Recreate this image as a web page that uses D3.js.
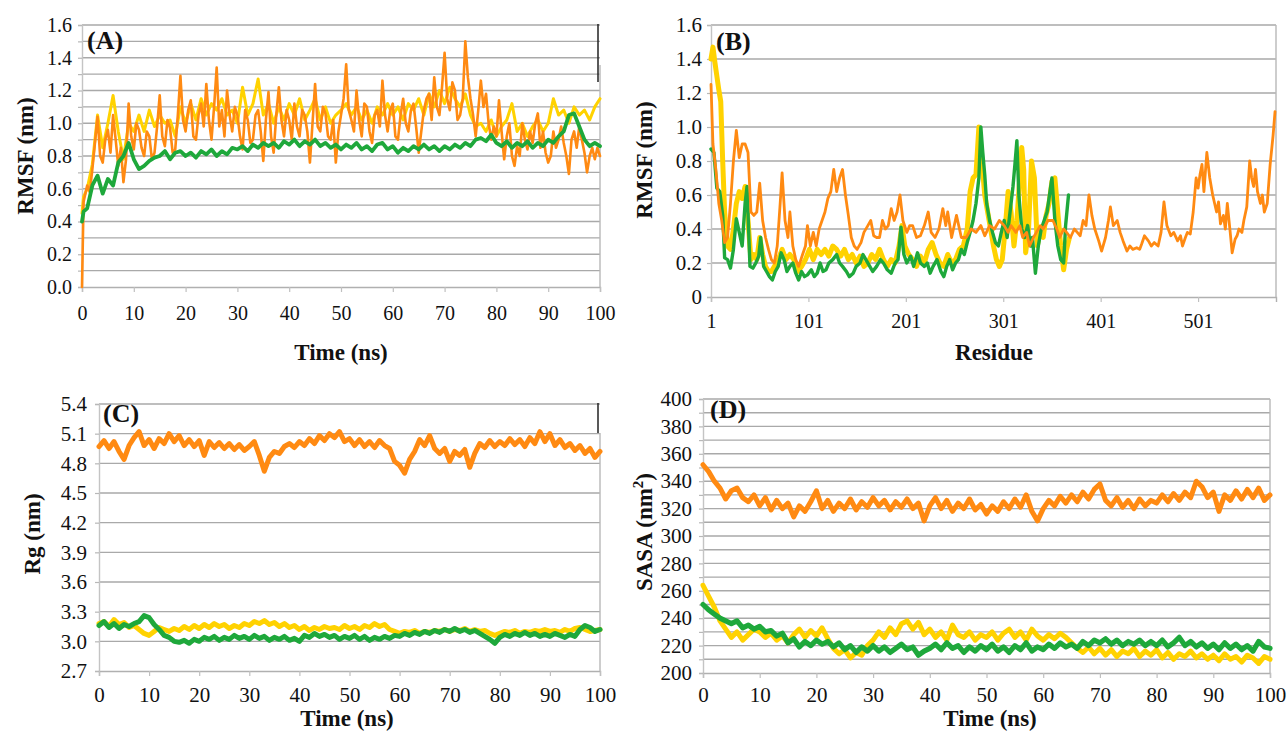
<!DOCTYPE html>
<html><head><meta charset="utf-8">
<script src="https://cdn.jsdelivr.net/npm/d3@7"></script>
<style>
body{margin:0;background:#fff}
svg{display:block}
text{font-family:"Liberation Serif","Times New Roman",Times,serif;fill:#111}
</style>
</head><body>
<svg id="c" width="1287" height="733"></svg>
<script>
// ---------------- DATA ----------------
// Panel A : RMSF (nm) vs Time (ns)
const timeA = [0, 0.3, 1,2,3,4,5,6,7,8,9,10,11,12,13,14,15,16,17,18,19,20,21,22,23,24,25,26,27,28,29,30,31,32,33,34,35,36,37,38,39,40,41,42,43,44,45,46,47,48,49,50,51,52,53,54,55,56,57,58,59,60,61,62,63,64,65,66,67,68,69,70,71,72,73,74,75,76,77,78,79,80,81,82,83,84,85,86,87,88,89,90,91,92,93,94,95,96,97,98,99,100];
// orange is sampled every 0.5 ns (after the first two points)
const timeOrangeA = [0, 0.3].concat(d3.range(2, 201).map(i => i / 2));
const orangeA = [0.00,0.52,
 0.62,0.58, 0.72,0.88, 1.04,0.80, 0.76,0.90, 0.96,0.82, 1.05,0.90, 0.74,0.85, 0.64,0.78, 1.12,0.92, 0.84,1.00,
 0.96,0.85, 0.80,0.95, 0.92,0.78, 0.82,0.98, 1.17,0.92, 0.86,1.02, 0.97,0.82, 0.84,1.05, 1.29,1.02, 0.95,1.08,
 1.14,0.92, 0.90,1.05, 1.12,0.98, 1.24,1.02, 0.90,1.10, 1.34,0.98, 1.08,0.92, 1.20,1.05, 0.95,1.10, 1.05,0.92,
 0.84,1.08, 1.02,0.88, 0.90,1.05, 1.08,0.95, 0.77,1.02, 1.19,0.92, 0.82,1.05, 1.22,1.02, 0.92,1.08, 1.02,0.90,
 1.12,0.98, 0.92,1.08, 1.05,0.95, 0.76,1.00, 1.24,0.98, 0.95,1.10, 1.06,0.92, 0.90,1.02, 0.76,0.95, 1.05,1.15,
 1.36,1.08, 1.02,0.95, 1.20,1.02, 0.92,1.12, 1.10,0.95, 0.88,1.05, 1.08,0.98, 1.26,1.05, 0.95,1.08, 1.12,0.92,
 0.90,1.05, 1.15,1.00, 0.95,1.08, 1.12,0.98, 0.82,0.95, 1.08,1.15, 1.18,1.02, 1.28,1.10, 1.05,1.22, 1.43,1.15,
 1.08,1.25, 1.20,1.02, 1.05,1.15, 1.50,1.28, 1.15,1.05, 0.92,1.08, 1.26,1.10, 1.18,1.00, 0.90,0.98, 0.92,1.14,
 0.95,0.78, 0.92,1.00, 0.80,0.74, 0.86,0.80, 1.00,0.90, 0.84,0.95, 0.88,1.00, 1.06,0.85, 0.95,0.82, 0.76,0.80,
 0.95,0.85, 0.90,0.98, 0.88,0.80, 0.69,0.90, 0.95,0.85, 0.98,0.90, 0.82,0.70, 0.80,0.85, 0.78,0.85,
 0.80];
const yellowA = [0.45,0.55,
 0.60,0.75,1.05,0.85,1.00,1.17,0.95,0.78,1.00,0.95,
 1.05,0.95,1.08,0.98,1.05,1.00,1.02,0.92,1.10,1.00,
 1.12,1.02,1.15,1.05,1.12,1.08,1.15,1.05,1.08,1.00,
 1.22,1.05,1.12,1.27,1.05,1.12,1.00,1.10,1.02,1.12,
 1.05,1.15,1.02,1.08,1.15,1.02,1.10,1.00,1.05,1.08,
 1.12,1.05,1.10,1.02,1.08,1.00,1.10,1.05,1.12,1.05,
 1.10,1.02,1.12,1.08,1.15,1.05,1.18,1.10,1.20,1.12,
 1.22,1.15,1.10,1.18,1.05,0.98,1.00,0.95,1.02,0.92,
 0.98,1.02,1.12,0.95,1.00,0.92,0.98,1.02,0.95,1.00,
 1.15,1.05,1.08,1.00,1.10,1.05,1.08,1.02,1.10,1.15];
const greenA = [0.40,0.46,
 0.48,0.62,0.68,0.57,0.66,0.62,0.76,0.80,0.88,0.78,
 0.72,0.74,0.77,0.79,0.80,0.83,0.78,0.82,0.83,0.80,
 0.82,0.79,0.83,0.81,0.84,0.80,0.83,0.81,0.85,0.84,
 0.86,0.83,0.87,0.85,0.88,0.86,0.88,0.85,0.89,0.87,
 0.90,0.86,0.89,0.87,0.90,0.86,0.88,0.85,0.87,0.84,
 0.87,0.85,0.88,0.84,0.86,0.83,0.87,0.88,0.84,0.86,
 0.82,0.85,0.83,0.86,0.84,0.87,0.84,0.86,0.83,0.86,
 0.84,0.87,0.85,0.88,0.86,0.90,0.91,0.89,0.93,0.88,
 0.86,0.89,0.85,0.88,0.86,0.89,0.85,0.88,0.86,0.90,
 0.88,0.92,0.95,1.05,1.06,0.98,0.90,0.86,0.88,0.86];

// Panel B : RMSF (nm) vs Residue
const resOrangeB = [1,3,6,9,12,15,18,21,24,27,30,33,36,39,42,45,48,51,54,57,60,63,66,69,72,74,77,80,82,85,88,91,95,98,100,103,106,109,112,115,118,121,124,127,130,133,136,139,142,145,148,151,155,158,162,165,168,171,174,177,180,183,186,189,192,195,198,202,205,208,212,216,220,224,227,231,235,239,242,244,248,253,258,263,268,273,278,282,287,292,297,302,306,309,314,318,321,325,328,332,335,339,342,347,352,356,359,363,366,370,374,377,380,383,386,389,392,395,399,402,406,409,411,414,418,421,424,428,431,434,438,441,443,446,450,453,456,460,463,466,469,473,476,480,483,485,488,490,493,496,499,501,503,505,507,510,513,516,518,520,522,524,527,529,531,534,536,539,541,543,546,548,551,554,556,558,560,562,565,567,569,572,575,578,580];
const orangeB = [1.25,0.90,0.75,0.55,0.45,0.32,0.35,0.55,0.80,0.98,0.82,0.90,0.90,0.85,0.50,0.48,0.50,0.67,0.45,0.35,0.28,0.22,0.20,0.30,0.55,0.73,0.45,0.35,0.50,0.30,0.22,0.18,0.25,0.30,0.42,0.30,0.38,0.30,0.40,0.45,0.50,0.58,0.62,0.75,0.62,0.70,0.75,0.60,0.48,0.35,0.30,0.28,0.32,0.38,0.42,0.45,0.36,0.35,0.35,0.45,0.40,0.42,0.52,0.45,0.50,0.60,0.45,0.38,0.42,0.42,0.35,0.36,0.42,0.50,0.38,0.35,0.40,0.52,0.42,0.50,0.35,0.48,0.35,0.35,0.40,0.38,0.42,0.36,0.42,0.40,0.45,0.42,0.38,0.42,0.38,0.42,0.35,0.38,0.30,0.35,0.38,0.42,0.40,0.45,0.45,0.40,0.35,0.40,0.38,0.35,0.40,0.38,0.36,0.45,0.42,0.60,0.48,0.40,0.33,0.27,0.35,0.45,0.53,0.42,0.45,0.38,0.33,0.27,0.30,0.28,0.29,0.28,0.31,0.36,0.33,0.30,0.32,0.30,0.38,0.56,0.42,0.36,0.38,0.33,0.36,0.30,0.35,0.38,0.37,0.50,0.70,0.64,0.72,0.78,0.62,0.85,0.70,0.60,0.55,0.50,0.56,0.43,0.48,0.40,0.55,0.38,0.26,0.34,0.36,0.40,0.38,0.45,0.53,0.80,0.70,0.65,0.75,0.62,0.55,0.60,0.50,0.55,0.78,0.95,1.09];
const resYellowB = [1,3,5,7,9,11,13,15,18,21,24,27,30,33,36,39,42,45,48,51,54,57,60,63,66,70,74,78,82,86,90,94,98,102,106,110,114,118,122,126,130,134,138,142,146,150,154,158,162,166,170,174,178,182,186,190,194,197,200,204,208,212,216,220,224,228,232,236,240,244,248,252,256,260,264,267,270,273,276,279,282,285,288,291,294,297,300,303,306,309,312,315,318,320,322,324,327,330,333,336,339,342,345,348,351,354,357,360,363,366,369];
const yellowB = [1.40,1.47,1.38,1.30,1.22,1.15,0.80,0.50,0.30,0.28,0.40,0.55,0.62,0.58,0.65,0.45,0.22,0.25,0.22,0.35,0.25,0.18,0.15,0.15,0.18,0.22,0.28,0.22,0.25,0.22,0.15,0.18,0.22,0.28,0.22,0.28,0.25,0.28,0.24,0.30,0.28,0.24,0.28,0.22,0.25,0.20,0.24,0.18,0.20,0.25,0.22,0.28,0.22,0.18,0.22,0.20,0.30,0.42,0.30,0.25,0.22,0.18,0.24,0.20,0.28,0.32,0.25,0.20,0.18,0.25,0.20,0.22,0.28,0.30,0.40,0.62,0.70,0.72,1.00,0.80,0.60,0.50,0.40,0.30,0.22,0.18,0.22,0.40,0.62,0.50,0.30,0.45,0.70,0.88,0.75,0.26,0.40,0.80,0.70,0.30,0.40,0.35,0.48,0.55,0.68,0.70,0.50,0.30,0.16,0.28,0.35];
const resGreenB = [1,4,7,10,13,15,18,21,24,27,30,33,36,38,41,44,47,50,52,55,58,61,64,67,70,73,76,79,82,85,88,91,94,97,100,104,107,110,113,116,119,122,126,130,133,136,140,143,147,150,154,157,160,164,167,171,175,178,182,186,190,193,196,199,202,206,209,213,216,220,223,226,229,233,237,240,243,246,249,252,255,258,261,264,267,270,273,276,278,280,282,284,287,290,293,296,299,302,305,308,311,313,315,317,320,323,326,329,331,334,337,340,343,346,349,351,354,357,360,363,365,368];
const greenB = [0.87,0.85,0.64,0.62,0.48,0.23,0.22,0.17,0.28,0.46,0.38,0.30,0.55,0.65,0.18,0.17,0.20,0.24,0.35,0.18,0.15,0.12,0.10,0.15,0.18,0.26,0.22,0.15,0.18,0.20,0.14,0.10,0.15,0.12,0.13,0.16,0.12,0.14,0.20,0.15,0.16,0.20,0.22,0.25,0.20,0.18,0.15,0.12,0.14,0.18,0.20,0.25,0.22,0.18,0.15,0.18,0.22,0.20,0.16,0.14,0.20,0.22,0.41,0.25,0.20,0.24,0.18,0.26,0.20,0.18,0.20,0.14,0.18,0.22,0.15,0.12,0.18,0.22,0.16,0.20,0.22,0.28,0.25,0.32,0.38,0.45,0.55,0.70,1.00,0.85,0.72,0.55,0.45,0.38,0.32,0.30,0.38,0.45,0.35,0.50,0.65,0.78,0.92,0.60,0.40,0.35,0.42,0.30,0.35,0.14,0.30,0.40,0.45,0.50,0.62,0.70,0.45,0.30,0.22,0.20,0.42,0.60];

// Panel C and D share the time axis 0..100 ns
const timeCD = [0,1,2,3,4,5,6,7,8,9,10,11,12,13,14,15,16,17,18,19,20,21,22,23,24,25,26,27,28,29,30,31,32,33,34,35,36,37,38,39,40,41,42,43,44,45,46,47,48,49,50,51,52,53,54,55,56,57,58,59,60,61,62,63,64,65,66,67,68,69,70,71,72,73,74,75,76,77,78,79,80,81,82,83,84,85,86,87,88,89,90,91,92,93,94,95,96,97,98,99,100];
// Panel C : Rg (nm)
const orangeC = [4.97,5.03,4.95,5.02,4.92,4.84,4.98,5.06,5.12,4.98,
 5.04,4.95,5.05,5.00,5.10,5.02,5.08,4.98,5.04,4.97,
 5.03,4.88,5.02,4.96,5.01,4.95,5.00,4.94,4.99,4.93,
 4.97,5.02,4.88,4.72,4.86,4.92,4.90,4.97,5.00,4.96,
 5.02,4.98,5.05,5.00,5.08,5.03,5.10,5.06,5.12,5.02,
 5.05,4.98,5.04,4.97,5.02,4.96,5.03,4.98,4.95,4.82,
 4.78,4.70,4.84,4.92,5.04,4.98,5.08,4.95,4.90,4.95,
 4.82,4.92,4.88,4.94,4.76,4.90,5.00,4.96,5.03,4.97,
 5.02,4.98,5.05,4.99,5.04,4.97,5.06,5.00,5.12,5.02,
 5.10,4.98,5.04,4.96,5.00,4.93,4.98,4.90,4.95,4.86,4.92];
const yellowC = [3.18,3.20,3.15,3.22,3.17,3.19,3.14,3.16,3.12,3.08,
 3.06,3.10,3.14,3.12,3.10,3.13,3.11,3.15,3.12,3.16,
 3.13,3.17,3.14,3.18,3.15,3.17,3.13,3.16,3.14,3.18,
 3.16,3.20,3.18,3.21,3.17,3.19,3.15,3.18,3.14,3.16,
 3.12,3.15,3.11,3.14,3.12,3.15,3.13,3.14,3.12,3.16,
 3.13,3.15,3.12,3.16,3.14,3.18,3.15,3.17,3.12,3.10,
 3.08,3.10,3.09,3.11,3.08,3.10,3.09,3.11,3.10,3.12,
 3.10,3.12,3.11,3.13,3.10,3.12,3.10,3.11,3.08,3.06,
 3.08,3.10,3.09,3.11,3.08,3.10,3.09,3.11,3.10,3.12,
 3.10,3.11,3.09,3.12,3.10,3.13,3.14,3.12,3.10,3.11,3.12];
const greenC = [3.16,3.20,3.14,3.18,3.13,3.17,3.15,3.18,3.20,3.26,
 3.24,3.17,3.12,3.06,3.04,3.00,2.99,3.01,2.98,3.02,
 3.00,3.04,3.02,3.05,3.01,3.04,3.02,3.06,3.03,3.05,
 3.02,3.06,3.03,3.05,3.01,3.04,3.02,3.05,3.01,3.03,
 3.00,3.06,3.04,3.08,3.05,3.07,3.04,3.06,3.02,3.05,
 3.03,3.06,3.02,3.05,3.01,3.04,3.02,3.05,3.03,3.06,
 3.05,3.08,3.06,3.09,3.07,3.10,3.08,3.11,3.09,3.12,
 3.10,3.13,3.10,3.12,3.09,3.11,3.08,3.05,3.02,2.98,
 3.04,3.07,3.05,3.08,3.06,3.09,3.06,3.08,3.05,3.07,
 3.05,3.08,3.06,3.04,3.07,3.05,3.12,3.16,3.14,3.10,3.12];
// Panel D : SASA (nm^2)
const orangeD = [352,347,340,335,327,333,335,328,325,330,
 322,328,319,326,320,324,314,322,318,325,
 333,320,326,318,324,320,327,319,325,321,
 328,322,326,319,325,321,327,320,324,311,
 322,328,320,326,318,324,320,327,319,323,
 316,322,318,325,320,327,321,330,318,311,
 320,326,322,329,324,330,325,332,327,334,
 338,326,322,328,321,326,320,327,322,326,
 324,330,325,331,326,332,328,340,336,328,
 332,318,330,326,333,327,334,328,335,326,330];
const yellowD = [264,256,248,238,232,226,230,224,228,232,
 230,226,229,224,227,222,228,232,226,231,
 227,233,225,218,214,217,211,215,213,220,
 224,230,226,233,228,236,238,232,237,228,
 232,226,230,224,235,228,226,230,224,228,
 226,230,224,229,232,226,230,224,232,227,
 224,228,225,229,226,222,218,215,219,214,
 218,213,217,212,216,214,218,212,216,213,
 217,211,215,210,214,212,216,211,214,210,
 213,209,214,210,212,208,213,211,207,212,210];
const greenD = [250,246,243,240,238,236,238,233,235,232,
 234,230,231,227,229,222,225,219,223,220,
 224,221,223,219,222,217,220,215,219,216,
 220,216,219,215,218,221,217,219,213,216,
 218,221,217,222,218,220,215,219,216,220,
 217,221,216,219,215,220,217,222,216,219,
 217,221,218,222,219,221,218,223,220,224,
 222,225,221,224,220,223,221,224,220,223,
 220,224,219,222,226,220,223,219,222,218,
 221,217,222,218,221,217,220,216,223,219,218];

// tick values
const ticksA = [0,0.2,0.4,0.6,0.8,1.0,1.2,1.4,1.6];
const gridA = [0.1,0.2,0.3,0.4,0.5,0.6,0.7,0.8,0.9,1.0,1.1,1.2,1.3,1.4,1.5,1.6];
const ticksB = [0,0.2,0.4,0.6,0.8,1.0,1.2,1.4,1.6];
const xTicksB = [1,101,201,301,401,501];
const ticksC = [2.7,3.0,3.3,3.6,3.9,4.2,4.5,4.8,5.1,5.4];
const ticksD = [200,220,240,260,280,300,320,340,360,380,400];
const gridD = [210,220,230,240,250,260,270,280,290,300,310,320,330,340,350,360,370,380,390,400];
const timeTicks = [0,10,20,30,40,50,60,70,80,90,100];

// ---------------- DRAWING ----------------
const svg = d3.select("#c");
const COL = {orange:"#FF8A12", yellow:"#FFD200", green:"#1EA83B"};

function zip(xs, ys){ return xs.map((x,i)=>[x, ys[i]]); }

function panel(c){
  const x = d3.scaleLinear().domain(c.xDomain).range([c.left, c.right]);
  const y = d3.scaleLinear().domain(c.yDomain).range([c.bottom, c.top]);
  const g = svg.append("g");

  g.append("g").selectAll("line").data(c.grid).join("line")
    .attr("x1", c.left).attr("x2", c.right)
    .attr("y1", d=>y(d)).attr("y2", d=>y(d))
    .attr("stroke", "#a9a9a9").attr("stroke-width", 1.4);

  const yMinor = g.append("g").attr("transform", `translate(${c.left},0)`)
    .call(d3.axisLeft(y).tickValues(c.grid.concat([c.yDomain[0]])).tickSize(4).tickFormat(""));
  yMinor.selectAll("line").attr("stroke", "#b8b8b8").attr("stroke-width", 1.2);
  yMinor.select(".domain").attr("stroke", "#c4c4c4").attr("stroke-width", 1.4);

  const yLab = g.append("g").attr("transform", `translate(${c.left},0)`)
    .call(d3.axisLeft(y).tickValues(c.yTicks).tickSize(0).tickPadding(c.yPad).tickFormat(c.yFmt));
  yLab.select(".domain").remove();
  yLab.attr("font-family", null);
  yLab.selectAll("text").attr("font-size", c.fsY).attr("fill", "#111");

  const xAx = g.append("g").attr("transform", `translate(0,${c.bottom})`)
    .call(d3.axisBottom(x).tickValues(c.xTicks).tickSize(5).tickFormat(""));
  xAx.selectAll("line").attr("stroke", "#c0c0c0").attr("stroke-width", 1.2);
  xAx.select(".domain").attr("stroke", "#b0b0b0").attr("stroke-width", 1.4);
  const xLab = g.append("g").attr("transform", `translate(0,${c.bottom})`)
    .call(d3.axisBottom(x).tickValues(c.xTicks).tickSize(0).tickPadding(c.xPad).tickFormat(d3.format("d")));
  xLab.select(".domain").remove();
  xLab.attr("font-family", null);
  xLab.selectAll("text").attr("font-size", c.fsX).attr("fill", "#111");

  if (c.border) {
    g.append("line").attr("x1", c.right).attr("x2", c.right)
      .attr("y1", c.border[0]).attr("y2", c.border[1])
      .attr("stroke", "#b8b8b8").attr("stroke-width", 1.4);
  }
  if (c.blackMark) {
    g.append("line").attr("x1", c.right-2).attr("x2", c.right-2)
      .attr("y1", c.blackMark[0]).attr("y2", c.blackMark[1])
      .attr("stroke", "#222").attr("stroke-width", 1.5);
  }

  const line = d3.line().x(d=>x(d[0])).y(d=>y(d[1]));
  c.series.forEach(s=>{
    g.append("path").datum(zip(s.xs, s.ys))
      .attr("d", line).attr("fill", "none")
      .attr("stroke", s.color).attr("stroke-width", s.w)
      .attr("stroke-linejoin", "round").attr("stroke-linecap", "round");
  });

  g.append("text").attr("x", c.label[1]).attr("y", c.label[2])
    .attr("font-size", 26).attr("font-weight", "bold").text(c.label[0]);

  const yt = g.append("text")
    .attr("transform", `translate(${c.yTitle[1]},${c.yTitle[2]}) rotate(-90)`)
    .attr("text-anchor", "middle").attr("font-size", 23).attr("font-weight", "bold");
  if (c.sup) {
    yt.append("tspan").text(c.yTitle[0]);
    yt.append("tspan").attr("font-size", 15).attr("dy", -9).text("2");
    yt.append("tspan").attr("dy", 9).text(")");
  } else {
    yt.text(c.yTitle[0]);
  }
  g.append("text").attr("x", c.xTitle[1]).attr("y", c.xTitle[2])
    .attr("text-anchor", "middle").attr("font-size", 23).attr("font-weight", "bold")
    .text(c.xTitle[0]);
}

const f1 = d3.format(".1f");

panel({
  left:82, right:600, top:25, bottom:287,
  xDomain:[0,100], yDomain:[0,1.6],
  grid:gridA, yTicks:ticksA, yFmt:f1, xTicks:timeTicks,
  fsY:20, fsX:20, yPad:10, xPad:19,
  border:[65,287], blackMark:[24,82],
  series:[
    {xs:timeA, ys:yellowA, color:COL.yellow, w:3},
    {xs:timeOrangeA, ys:orangeA, color:COL.orange, w:2.6},
    {xs:timeA, ys:greenA, color:COL.green, w:3.8}
  ],
  label:["(A)",87,49], yTitle:["RMSF (nm)",33,156], xTitle:["Time (ns)",341,360]
});

panel({
  left:711, right:1276, top:25, bottom:297,
  xDomain:[1,581], yDomain:[0,1.6],
  grid:ticksB.slice(1), yTicks:ticksB, yFmt:d=> d===0 ? "0" : f1(d), xTicks:xTicksB,
  fsY:21, fsX:20, yPad:9, xPad:17,
  border:[25,297],
  series:[
    {xs:resYellowB, ys:yellowB, color:COL.yellow, w:5},
    {xs:resGreenB, ys:greenB, color:COL.green, w:3.4},
    {xs:resOrangeB, ys:orangeB, color:COL.orange, w:2.8}
  ],
  label:["(B)",716,50], yTitle:["RMSF (nm)",652,160], xTitle:["Residue",994,360]
});

panel({
  left:99, right:600, top:404, bottom:671,
  xDomain:[0,100], yDomain:[2.7,5.4],
  grid:ticksC.slice(1), yTicks:ticksC, yFmt:f1, xTicks:timeTicks,
  fsY:21, fsX:21, yPad:12, xPad:16,
  border:[433,671], blackMark:[403,433],
  series:[
    {xs:timeCD, ys:yellowC, color:COL.yellow, w:5},
    {xs:timeCD, ys:greenC, color:COL.green, w:5},
    {xs:timeCD, ys:orangeC, color:COL.orange, w:5}
  ],
  label:["(C)",103,422], yTitle:["Rg (nm)",40,534], xTitle:["Time (ns)",347,726]
});

panel({
  left:703, right:1270, top:399, bottom:673,
  xDomain:[0,100], yDomain:[200,400],
  grid:gridD, yTicks:ticksD, yFmt:d3.format("d"), xTicks:timeTicks,
  fsY:21, fsX:21, yPad:11, xPad:14,
  border:[399,673], sup:true,
  series:[
    {xs:timeCD, ys:yellowD, color:COL.yellow, w:5},
    {xs:timeCD, ys:greenD, color:COL.green, w:5.2},
    {xs:timeCD, ys:orangeD, color:COL.orange, w:5}
  ],
  label:["(D)",710,418], yTitle:["SASA (nm",652,532], xTitle:["Time (ns)",990,726]
});
</script>
</body></html>
